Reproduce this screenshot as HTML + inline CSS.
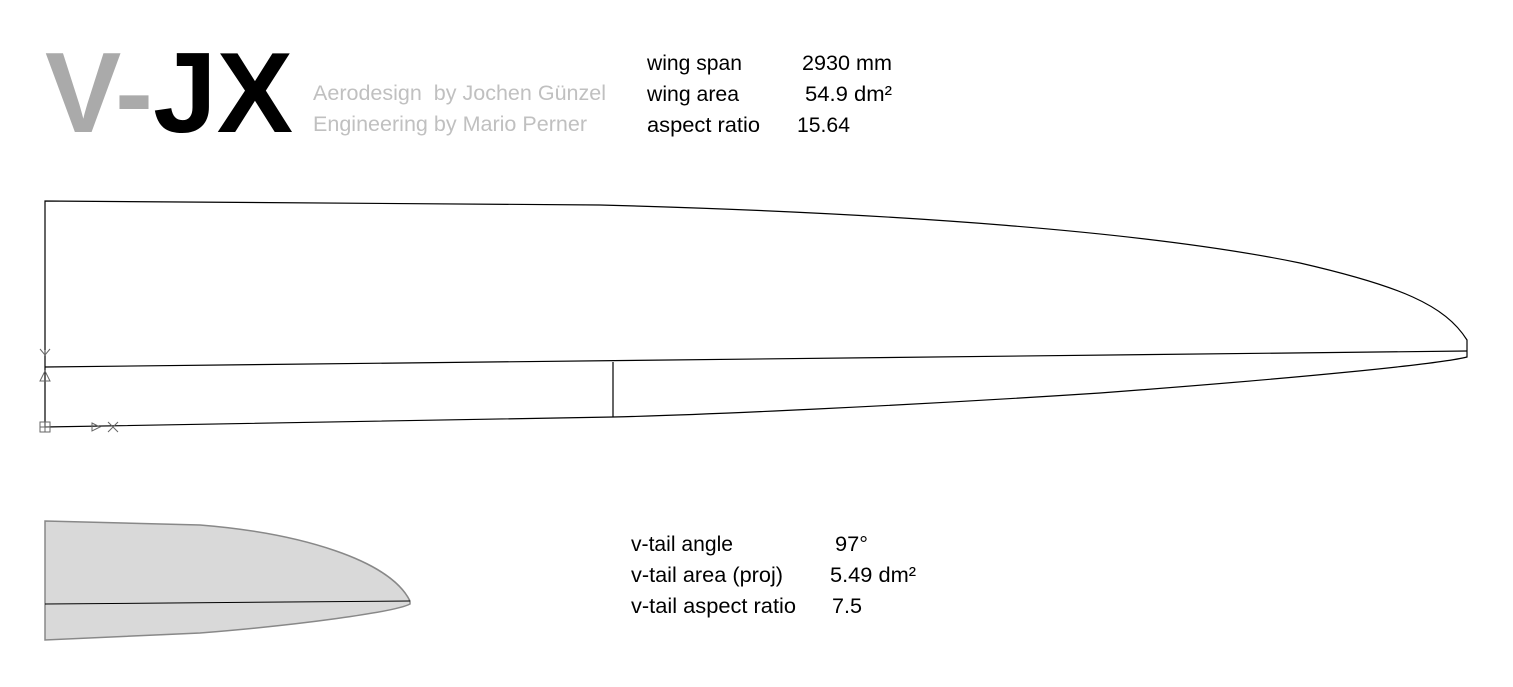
<!DOCTYPE html>
<html><head><meta charset="utf-8"><style>
html,body{margin:0;padding:0;background:#fff;}
svg{display:block;font-family:"Liberation Sans",Arial,sans-serif;}
</style></head><body>
<svg width="1513" height="687" viewBox="0 0 1513 687">
<g>
<text x="45" y="132" font-size="114" font-weight="bold" fill="#aaaaaa" textLength="248" lengthAdjust="spacingAndGlyphs">V-<tspan fill="#000">JX</tspan></text>
</g>
<g font-size="21" fill="#c0c0c0">
<text x="313" y="100" xml:space="preserve" textLength="293" lengthAdjust="spacingAndGlyphs">Aerodesign  by Jochen Günzel</text>
<text x="313" y="131" textLength="274" lengthAdjust="spacingAndGlyphs">Engineering by Mario Perner</text>
</g>
<g font-size="21" fill="#000">
<text x="647" y="70" textLength="95" lengthAdjust="spacingAndGlyphs">wing span</text>
<text x="802" y="70" textLength="90" lengthAdjust="spacingAndGlyphs">2930 mm</text>
<text x="647" y="101" textLength="92" lengthAdjust="spacingAndGlyphs">wing area</text>
<text x="805" y="101" textLength="87" lengthAdjust="spacingAndGlyphs">54.9 dm²</text>
<text x="647" y="132" textLength="113" lengthAdjust="spacingAndGlyphs">aspect ratio</text>
<text x="797" y="132" textLength="53" lengthAdjust="spacingAndGlyphs">15.64</text>
</g>
<g fill="none" stroke="#000" stroke-width="1.2">
<path d="M45,427 L45,201 L600,205 C900,213 1150,232 1300,263 C1400,286 1445,305 1467,340 L1467,357 C1440,364 1300,378 1100,393 C900,406 700,415 613,417 L45,427"/>
<path d="M45,367 L1467,351"/>
<path d="M613,362 L613,417"/>
</g>
<g fill="none" stroke="#666" stroke-width="1">
<path d="M40,349 L45,355 L50,349 M45,355 L45,350"/>
<path d="M45,371 L40,381 L50,381 Z"/>
<path d="M40,422 h10 v10 h-10 Z M45,422 v10 M40,427 h10"/>
<path d="M92,423 L100,427 L92,431 Z"/>
<path d="M108,422 L118,432 M118,422 L108,432"/>
</g>
<g>
<path d="M45,521 L200,525 C300,533 390,560 410,601 L410,604 C395,612 300,625 200,633 L45,640 Z" fill="#d9d9d9" stroke="#888" stroke-width="1.5"/>
<path d="M45,604 L410,601" stroke="#000" stroke-width="1"/>
</g>
<g font-size="21" fill="#000">
<text x="631" y="551" textLength="102" lengthAdjust="spacingAndGlyphs">v-tail angle</text>
<text x="835" y="551" textLength="33" lengthAdjust="spacingAndGlyphs">97°</text>
<text x="631" y="582" textLength="152" lengthAdjust="spacingAndGlyphs">v-tail area (proj)</text>
<text x="830" y="582" textLength="86" lengthAdjust="spacingAndGlyphs">5.49 dm²</text>
<text x="631" y="613" textLength="165" lengthAdjust="spacingAndGlyphs">v-tail aspect ratio</text>
<text x="832" y="613" textLength="30" lengthAdjust="spacingAndGlyphs">7.5</text>
</g>
</svg>
</body></html>
